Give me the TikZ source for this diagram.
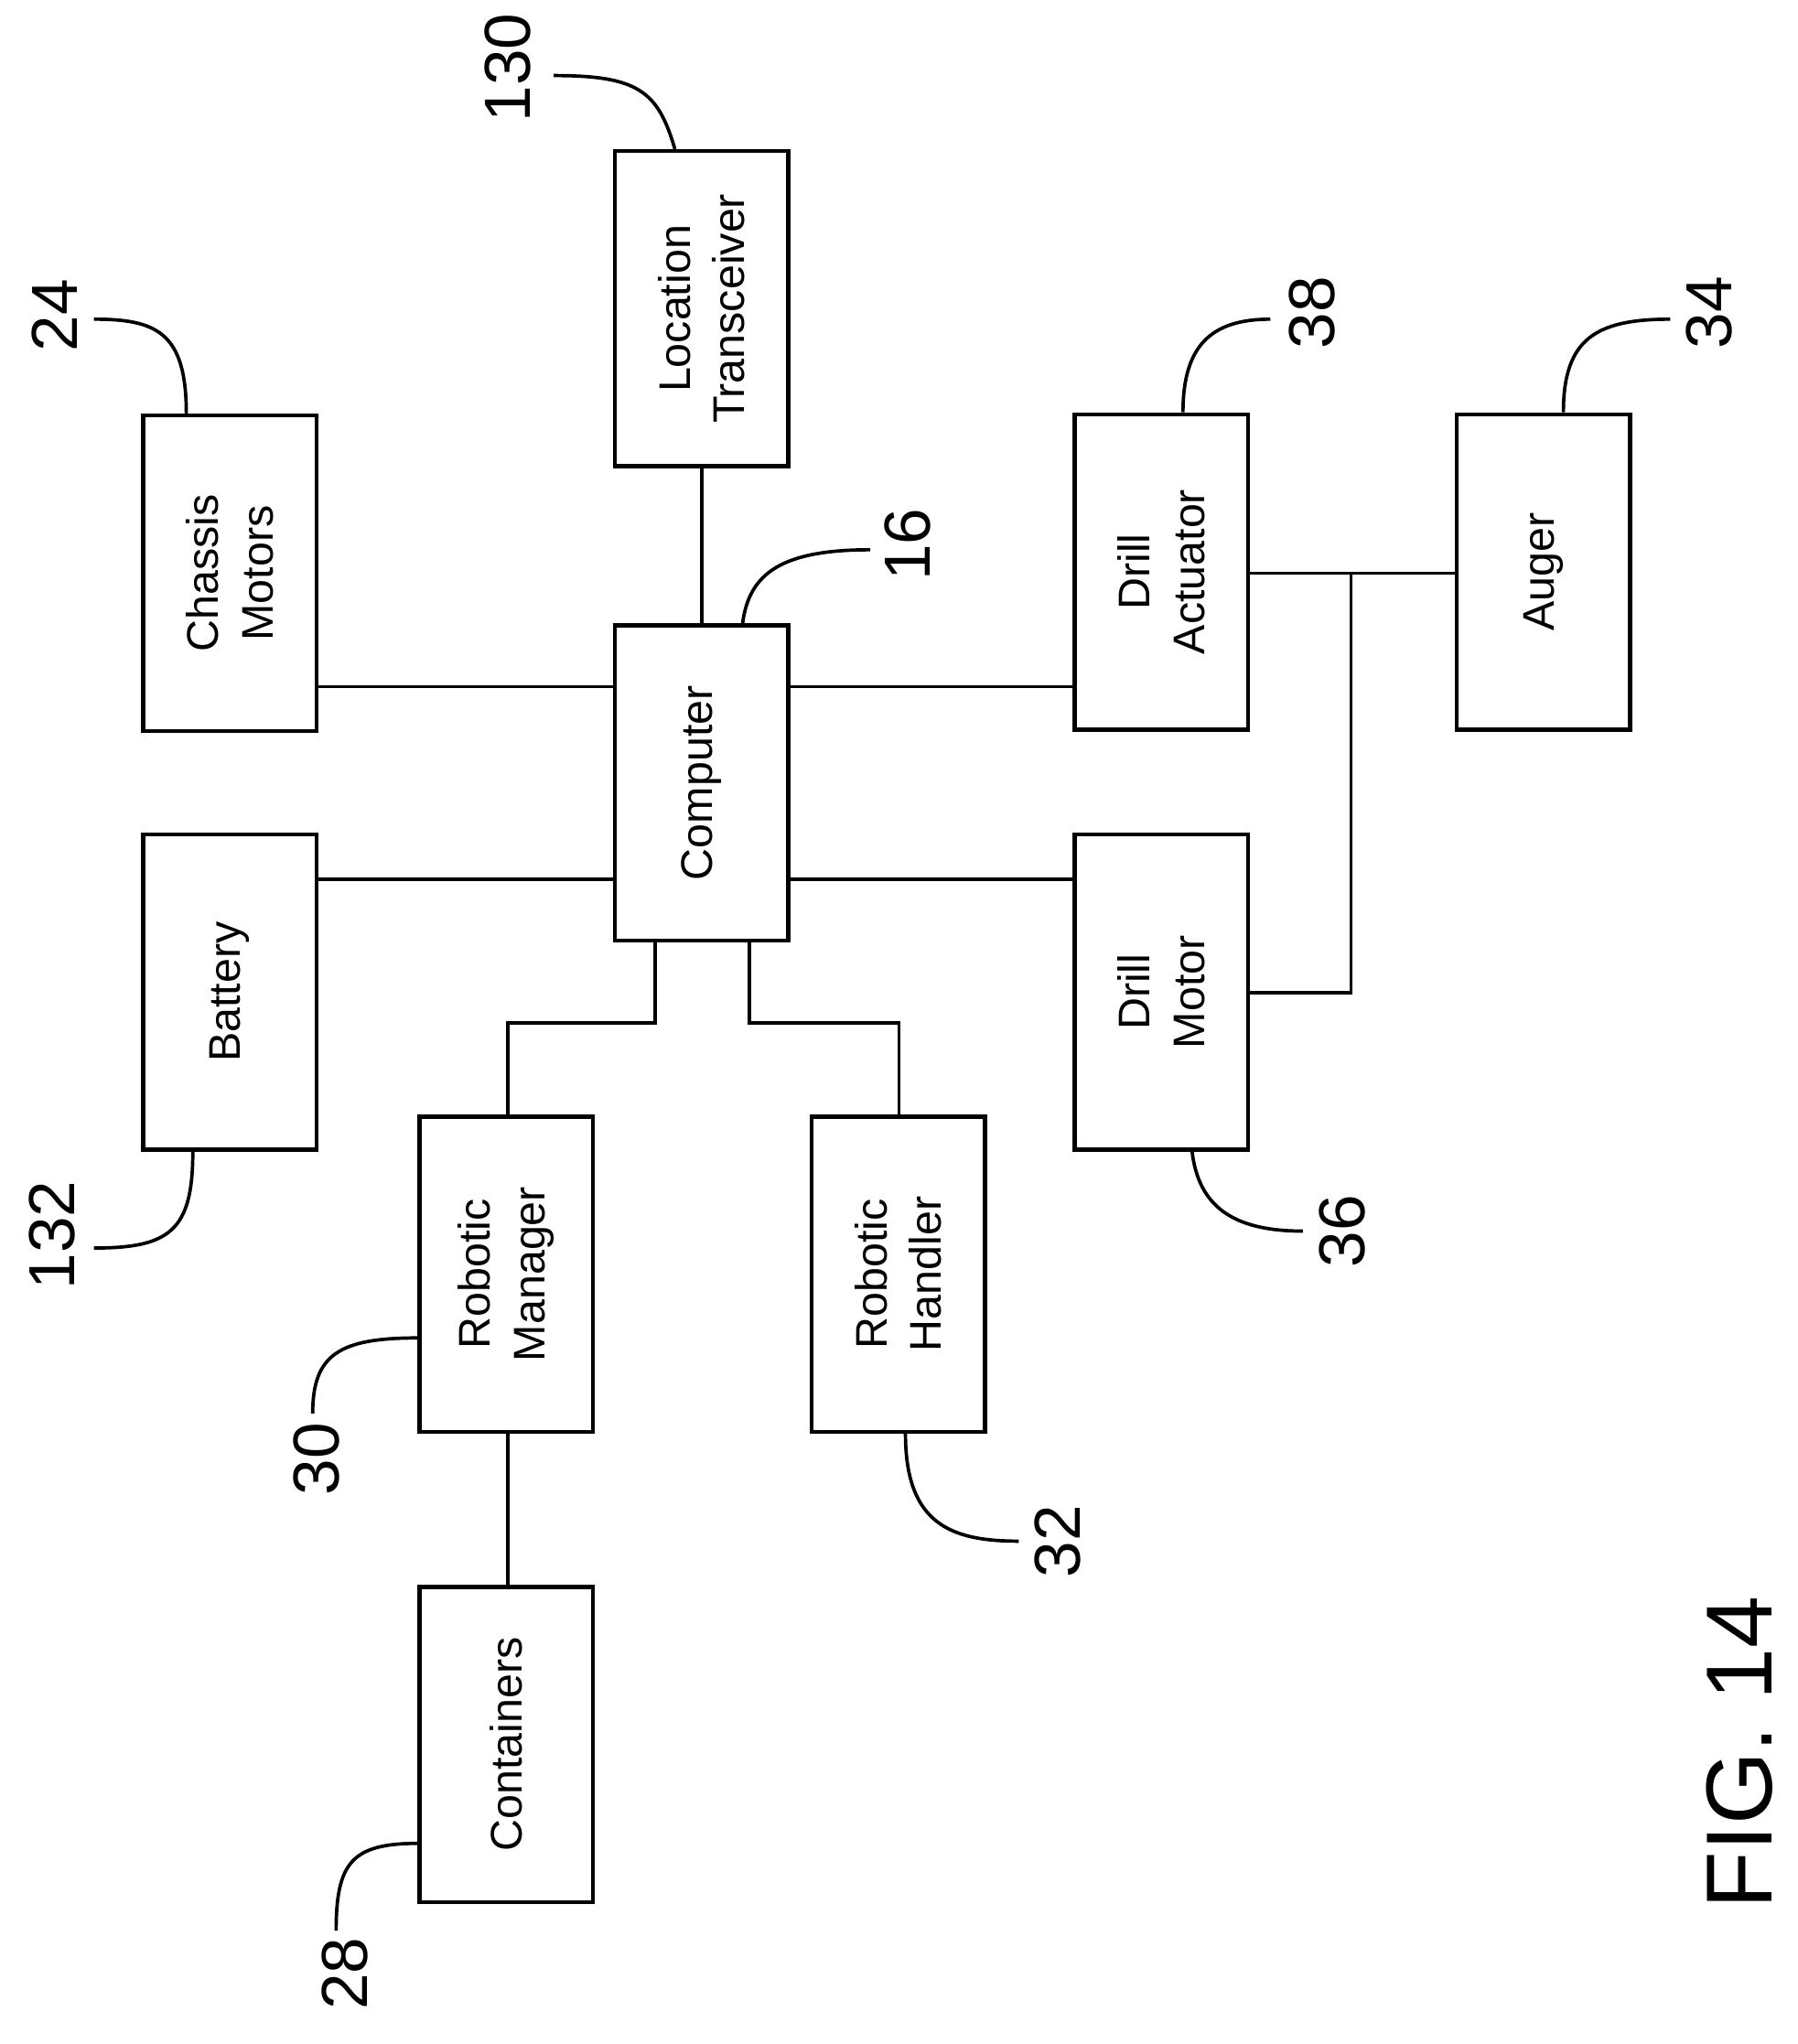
\documentclass[tikz,border=0pt]{standalone}
\usepackage{fontspec}
\setmainfont{Liberation Sans}
\begin{document}
\begin{tikzpicture}[x=0.5pt,y=-0.5pt,line width=1.3pt,
 box/.style={draw,line width=1.6pt,minimum width=66.5pt,minimum height=121pt,inner sep=0pt},
 txt/.style={rotate=90,align=center,font=\fontsize{17}{21}\selectfont},
 lbl/.style={rotate=90,font=\fontsize{25}{28}\selectfont}]
\useasboundingbox (0,0) rectangle (1380,1569);
\node[box] (loc) at (538.5,237) {};
\node[txt] at (loc) {Location\\Transceiver};
\node[box] (cha) at (176.5,440) {};
\node[txt] at (cha) {Chassis\\Motors};
\node[box] (comp) at (538.5,601) {};
\node[txt] at (comp) {Computer};
\node[box] (act) at (891.5,439) {};
\node[txt] at (act) {Drill\\Actuator};
\node[box] (aug) at (1184.5,439) {};
\node[txt] at (aug) {Auger};
\node[box] (bat) at (176.5,761.5) {};
\node[txt] at (bat) {Battery};
\node[box] (mot) at (891.5,761.5) {};
\node[txt] at (mot) {Drill\\Motor};
\node[box] (man) at (388.5,978) {};
\node[txt] at (man) {Robotic\\Manager};
\node[box] (han) at (689.5,978) {};
\node[txt] at (han) {Robotic\\Handler};
\node[box] (con) at (388.5,1339) {};
\node[txt] at (con) {Containers};
\coordinate (j) at (1037,440);
% connectors
\draw (loc.south) -- (comp.north);
\draw (cha.east|-{0,527}) -- (comp.west|-{0,527});
\draw (bat.east|-{0,675}) -- (comp.west|-{0,675});
\draw (comp.east|-{0,527}) -- (act.west|-{0,527});
\draw (comp.east|-{0,675}) -- (mot.west|-{0,675});
\draw (act.east|-j) -- (aug.west|-j);
\draw (j) -- (1037,762) -- (mot.east|-{0,762});
\draw (comp.south-|{503,0}) -- (503,785) -- (390,785) -- (man.north-|{390,0});
\draw (comp.south-|{575,0}) -- (575,785) -- (690,785) -- (han.north-|{690,0});
\draw (man.south-|{390,0}) -- (con.north-|{390,0});
% labels
\node[lbl] (l130) at (390,52) {130};
\draw (loc.north-|{518,0}) .. controls (505,70) and (490,58) .. (425,58);
\node[lbl] (l24) at (42,242) {24};
\draw (cha.north-|{143,0}) .. controls (143,255) and (120,245) .. (72,245);
\node[lbl] (l16) at (697,418) {16};
\draw (comp.north-|{570,0}) .. controls (575,440) and (600,422) .. (668,422);
\node[lbl] (l38) at (1007,240) {38};
\draw (act.north-|{908,0}) .. controls (908,265) and (930,245) .. (975,245);
\node[lbl] (l34) at (1312,240) {34};
\draw (aug.north-|{1200,0}) .. controls (1200,260) and (1225,245) .. (1282,245);
\node[lbl] (l36) at (1030,945) {36};
\draw (mot.south-|{915,0}) .. controls (920,925) and (945,945) .. (1000,945);
\node[lbl] (l132) at (40,948) {132};
\draw (bat.south-|{148,0}) .. controls (148,945) and (130,958) .. (72,958);
\node[lbl] (l30) at (243,1120) {30};
\draw (man.west|-{0,1027}) .. controls (260,1027) and (240,1040) .. (240,1085);
\node[lbl] (l32) at (812,1183) {32};
\draw (han.south-|{695,0}) .. controls (695,1170) and (730,1183) .. (782,1183);
\node[lbl] (l28) at (265,1515) {28};
\draw (con.west|-{0,1415}) .. controls (270,1415) and (258,1430) .. (258,1482);
\node[rotate=90,font=\fontsize{36}{40}\selectfont] (fig) at (1335,1345) {FIG. 14};
\end{tikzpicture}
\end{document}
